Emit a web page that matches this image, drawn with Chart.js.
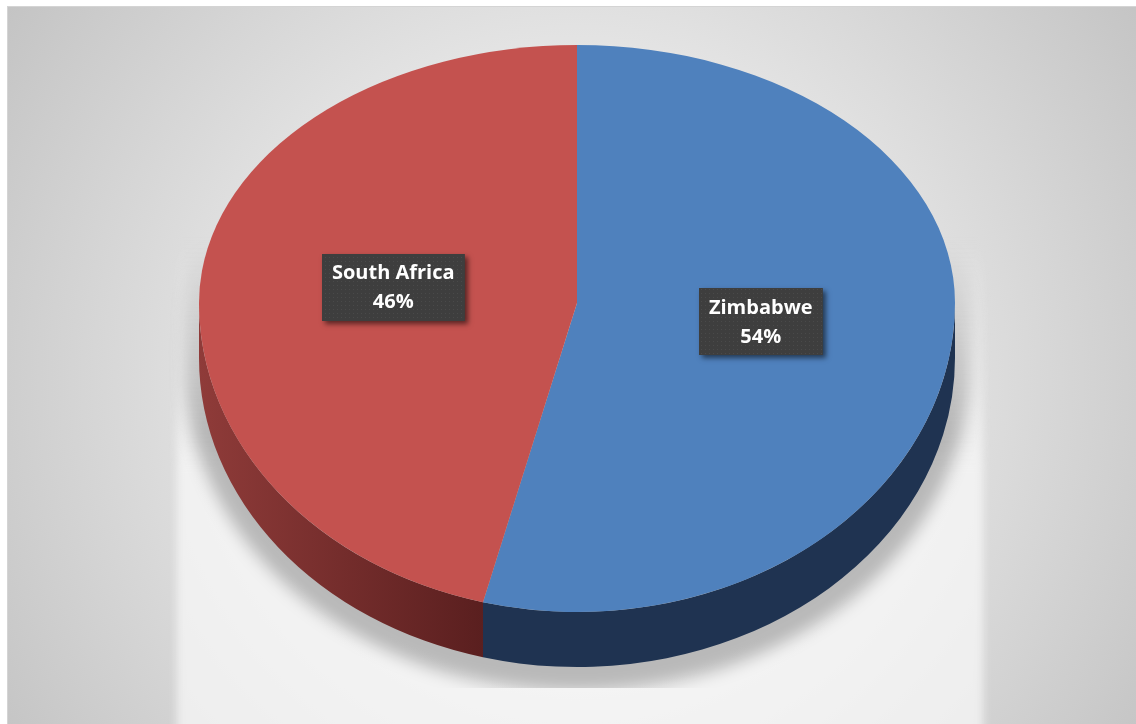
<!DOCTYPE html>
<html>
<head>
<meta charset="utf-8">
<script src="https://cdn.jsdelivr.net/npm/chart.js"></script>
<style>
  html, body { margin: 0; padding: 0; background: #fff; }
  #wrap { position: relative; width: 1136px; height: 724px; }
</style>
</head>
<body>
<div id="wrap"><canvas id="pie" width="1136" height="724"></canvas></div>
<script>
const countries = ['Zimbabwe', 'South Africa']
const shares = [54, 46]

const topColors = ['#4f81bd', '#c4524f']
// side wall colours, left -> right
const sideColors = [['#1f3351', '#1f3351'], ['#8f3b39', '#5a1f1f']]

// disc geometry on screen: the back half is flatter than the front (perspective)
const RX = 378
const RY_TOP = 258
const RY_BOTTOM = 309
const DEPTH = 55
const FLOOR_Y = 688

function halfTransform(ctx, el, ry) {
    ctx.translate(el.x, el.y)
    ctx.scale(RX / el.outerRadius, ry / el.outerRadius)
    ctx.translate(-el.x, -el.y)
}

function screenPoint(el, angle, frac) {
    const s = Math.sin(angle)
    return {
        x: el.x + Math.cos(angle) * frac * RX,
        y: el.y + s * frac * (s < 0 ? RY_TOP : RY_BOTTOM),
    }
}

// parts of an arc that face the viewer (lower half of the disc)
function frontSegments(s, e) {
    const out = []
    for (const base of [-2 * Math.PI, 0, 2 * Math.PI]) {
        const a0 = Math.max(s, base)
        const a1 = Math.min(e, base + Math.PI)
        if (a1 > a0) out.push([a0, a1])
    }
    return out
}

const backdrop = {
    id: 'backdrop',
    beforeDraw(chart) {
        const { ctx, width, height } = chart
        const el = chart.getDatasetMeta(0).data[0]
        const cx = el.x, cy = el.y
        ctx.save()
        ctx.fillStyle = '#fff'
        ctx.fillRect(0, 0, width, height)
        ctx.fillStyle = '#d4d4d4'
        ctx.fillRect(7, 6, width - 7, height - 6)

        const g = ctx.createRadialGradient(cx, 380, 0, cx, 380, 700)
        g.addColorStop(0, '#f2f2f2')
        g.addColorStop(0.35, '#ececec')
        g.addColorStop(1, '#c2c2c2')
        ctx.fillStyle = g
        ctx.fillRect(8, 7, width - 8, height - 7)

        // lit floor under the disc
        ctx.save()
        ctx.filter = 'blur(4px)'
        const hg = ctx.createLinearGradient(0, 240, 0, 470)
        hg.addColorStop(0, 'rgba(250,250,250,0)')
        hg.addColorStop(1, 'rgba(250,250,250,0.7)')
        ctx.fillStyle = hg
        ctx.fillRect(cx - RX - 22, 240, 2 * RX + 44 + 6, 520)
        ctx.restore()

        // soft shadow cast by the disc, cut off at the floor edge
        ctx.save()
        ctx.beginPath()
        ctx.rect(0, 0, width, FLOOR_Y)
        ctx.clip()
        ctx.filter = 'blur(8px)'
        const sg = ctx.createLinearGradient(0, cy - 60, 0, cy + 130)
        sg.addColorStop(0, 'rgba(0,0,0,0)')
        sg.addColorStop(1, 'rgba(0,0,0,0.24)')
        ctx.fillStyle = sg
        ctx.beginPath()
        ctx.ellipse(cx, cy + DEPTH + 10, RX + 14, RY_BOTTOM + 14, 0, 0, Math.PI)
        ctx.ellipse(cx, cy + 10, RX + 14, RY_TOP, 0, Math.PI, 2 * Math.PI)
        ctx.closePath()
        ctx.fill()
        ctx.restore()

        ctx.restore()
    },
}

const disc3d = {
    id: 'disc3d',
    beforeDatasetsDraw(chart) {
        const { ctx } = chart
        const meta = chart.getDatasetMeta(0)
        const el0 = meta.data[0]

        // side walls
        meta.data.forEach((el, i) => {
            ctx.save()
            halfTransform(ctx, el, RY_BOTTOM)
            const r = el.outerRadius
            const d = DEPTH * r / RY_BOTTOM
            frontSegments(el.startAngle, el.endAngle).forEach(([a0, a1]) => {
                const xL = el.x + r * Math.cos(a1)
                const xR = el.x + r * Math.cos(a0)
                const g = ctx.createLinearGradient(xL, 0, xR, 0)
                g.addColorStop(0, sideColors[i][0])
                g.addColorStop(1, sideColors[i][1])
                ctx.fillStyle = g
                ctx.beginPath()
                ctx.arc(el.x, el.y, r, a0, a1)
                ctx.arc(el.x, el.y + d, r, a1, a0, true)
                ctx.closePath()
                ctx.fill()
            })
            ctx.restore()
        })

        // top face, back half and front half
        ctx.save()
        ctx.beginPath()
        ctx.rect(0, 0, chart.width, el0.y)
        ctx.clip()
        halfTransform(ctx, el0, RY_TOP)
        meta.controller.draw()
        ctx.restore()

        ctx.save()
        ctx.beginPath()
        ctx.rect(0, el0.y, chart.width, chart.height - el0.y)
        ctx.clip()
        halfTransform(ctx, el0, RY_BOTTOM)
        meta.controller.draw()
        ctx.restore()
        return false
    },
}

function dotPattern(ctx) {
    const c = document.createElement('canvas')
    c.width = 4
    c.height = 4
    const p = c.getContext('2d')
    p.fillStyle = '#3e3e3e'
    p.fillRect(0, 0, 4, 4)
    p.fillStyle = '#4a4a4a'
    p.fillRect(1, 1, 1, 1)
    return ctx.createPattern(c, 'repeat')
}

const calloutLabels = {
    id: 'calloutLabels',
    afterDraw(chart) {
        const { ctx } = chart
        const meta = chart.getDatasetMeta(0)
        const total = shares.reduce((a, b) => a + b, 0)
        const pattern = dotPattern(ctx)
        ctx.save()
        ctx.font = 'bold 20px "Open Sans"'
        ctx.textAlign = 'center'
        ctx.textBaseline = 'middle'
        meta.data.forEach((el, i) => {
            const mid = (el.startAngle + el.endAngle) / 2
            const p = screenPoint(el, mid, 0.49)
            const lines = [countries[i], Math.round(shares[i] / total * 100) + '%']
            const w = Math.max(...lines.map(t => ctx.measureText(t).width)) + 20
            const h = 67
            const x = Math.round(p.x - w / 2), y = Math.round(p.y - h / 2)

            ctx.save()
            ctx.shadowColor = 'rgba(0,0,0,0.55)'
            ctx.shadowBlur = 5
            ctx.shadowOffsetX = 3
            ctx.shadowOffsetY = 3
            ctx.fillStyle = '#3e3e3e'
            ctx.fillRect(x, y, w, h)
            ctx.restore()
            ctx.fillStyle = pattern
            ctx.fillRect(x, y, w, h)

            ctx.fillStyle = '#ffffff'
            ctx.fillText(lines[0], p.x, p.y - 14)
            ctx.fillText(lines[1], p.x, p.y + 15)
        })
        ctx.restore()
    },
}

new Chart(document.getElementById('pie'), {
    type: 'pie',
    data: {
        labels: countries,
        datasets: [{
            data: shares,
            backgroundColor: topColors,
            borderWidth: 0,
            hoverOffset: 0,
        }],
    },
    options: {
        responsive: false,
        animation: false,
        events: [],
        layout: { padding: { left: 199, right: 181, top: 45, bottom: 163 } },
        plugins: {
            legend: { display: false },
            tooltip: { enabled: false },
        },
    },
    plugins: [backdrop, disc3d, calloutLabels],
})
</script>
</body>
</html>
